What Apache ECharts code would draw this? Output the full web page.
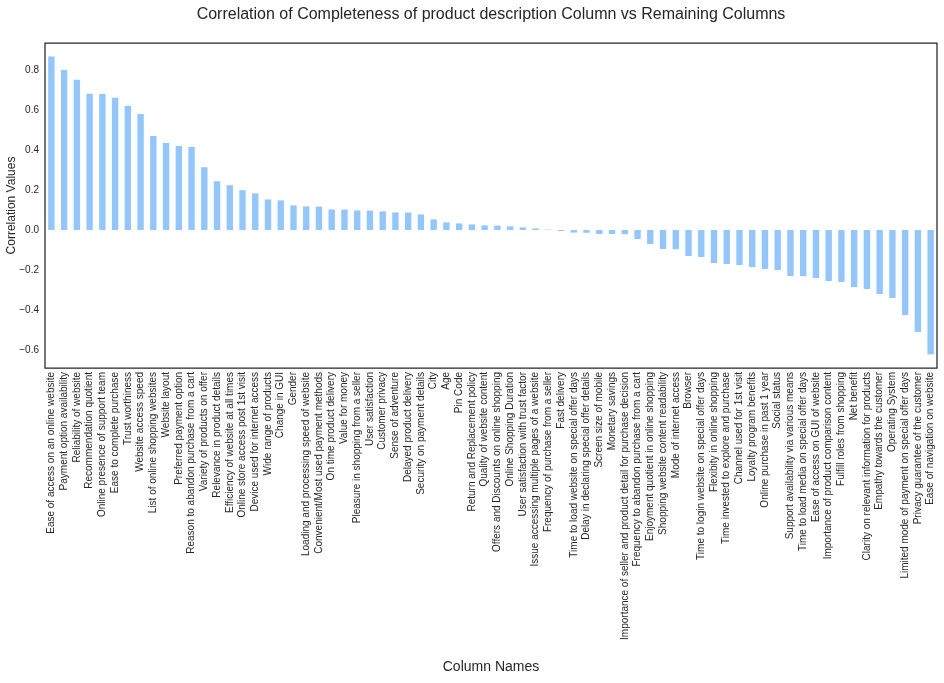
<!DOCTYPE html>
<html lang="en">
<head>
    <meta charset="UTF-8">
    <title>Correlation of Completeness of product description</title>
    <script src="https://cdn.jsdelivr.net/npm/echarts@6/dist/echarts.min.js"></script>
</head>
<body style="margin: 0; background-color: white;">
<div id="chart" style="width: 944px; height: 683px;"></div>

<script>
    // column names, sorted by correlation
    const columnNames = [
        'Ease of access on an online website', 'Payment option availability', 'Reliability of website',
        'Recommendation quotient', 'Online presence of support team', 'Ease to complete purchase',
        'Trust worthiness', 'Website access speed', 'List of online shopping websites', 'Website layout',
        'Preferred payment option', 'Reason to abandon purchase from a cart', 'Variety of products on offer',
        'Relevance in product details', 'Efficiency of website at all times', 'Online store access post 1st visit',
        'Device used for internet access', 'Wide range of products', 'Change in GUI', 'Gender',
        'Loading and processing speed of website', 'Convenient/Most used payment methods',
        'On time product delivery', 'Value for money', 'Pleasure in shopping from a seller',
        'User satisfaction', 'Customer privacy', 'Sense of adventure', 'Delayed product delivery',
        'Security on payment details', 'City', 'Age', 'Pin Code', 'Return and Replacement policy',
        'Quality of website content', 'Offers and Discounts on online shopping', 'Online Shopping Duration',
        'User satisfaction with trust factor', 'Issue accessing multiple pages of a website',
        'Frequency of purchase from a seller', 'Fast delivery', 'Time to load website on special offer days',
        'Delay in declaring special offer details', 'Screen size of mobile', 'Monetary savings',
        'Importance of seller and product detail for purchase decision',
        'Frequency to abandon purchase from a cart', 'Enjoyment quotient in online shopping',
        'Shopping website content readability', 'Mode of internet access', 'Browser',
        'Time to login website on special offer days', 'Flexibity in online shopping',
        'Time invested to explore and purchase', 'Channel used for 1st visit', 'Loyalty program benefits',
        'Online purchase in past 1 year', 'Social status', 'Support availability via various means',
        'Time to load media on special offer days', 'Ease of access on GUI of website',
        'Importance of product comparison content', 'Fulfill roles from shopping', 'Net benefit',
        'Clarity on relevant information for products', 'Empathy towards the customer', 'Operating System',
        'Limited mode of payment on special offer days', 'Privacy guarantee of the customer',
        'Ease of navigation on website'
    ];

    // correlation values
    const correlationValues = [
        0.867, 0.800, 0.751, 0.681, 0.680, 0.661, 0.621, 0.580, 0.470, 0.435,
        0.420, 0.415, 0.314, 0.244, 0.224, 0.199, 0.183, 0.153, 0.148, 0.123,
        0.118, 0.117, 0.103, 0.102, 0.098, 0.097, 0.093, 0.088, 0.087, 0.078,
        0.053, 0.038, 0.033, 0.028, 0.023, 0.022, 0.018, 0.013, 0.008, 0.002,
        -0.005, -0.013, -0.014, -0.020, -0.020, -0.021, -0.045, -0.070, -0.095, -0.096,
        -0.130, -0.135, -0.165, -0.170, -0.175, -0.185, -0.195, -0.200, -0.230, -0.231,
        -0.240, -0.255, -0.260, -0.285, -0.295, -0.320, -0.340, -0.425, -0.510, -0.622
    ];

    const FONT = '"Liberation Sans", Arial, sans-serif';
    const TEXT_COLOR = '#262626';

    const myChart = echarts.init(document.getElementById('chart'));

    const option = {
        animation: false,
        title: {
            text: 'Correlation of Completeness of product description Column vs Remaining Columns',
            left: 491,
            top: 7,
            padding: 0,
            textAlign: 'center',
            textStyle: { fontFamily: FONT, fontSize: 16, fontWeight: 'normal', color: TEXT_COLOR }
        },
        grid: {
            left: 45,
            right: 7,
            top: 43,
            bottom: 315,
            containLabel: false,
            outerBoundsMode: 'none',
            show: true,
            borderColor: '#262626',
            borderWidth: 1.25,
            backgroundColor: 'transparent'
        },
        xAxis: {
            type: 'category',
            data: columnNames,
            name: 'Column Names',
            nameLocation: 'middle',
            nameGap: 292,
            nameTextStyle: { fontFamily: FONT, fontSize: 14, color: TEXT_COLOR },
            axisLine: { show: false },
            axisTick: { show: false },
            axisLabel: {
                interval: 0,
                rotate: 90,
                margin: 4,
                fontFamily: FONT,
                fontSize: 10,
                color: TEXT_COLOR
            }
        },
        yAxis: {
            type: 'value',
            min: -0.69,
            max: 0.935,
            splitNumber: 8,
            name: 'Correlation Values',
            nameLocation: 'middle',
            nameGap: 27,
            nameMoveOverlap: false,
            nameTextStyle: { fontFamily: FONT, fontSize: 12, color: TEXT_COLOR },
            axisLine: { show: false },
            axisTick: { show: false },
            splitLine: { show: false },
            axisLabel: {
                margin: 6,
                showMinLabel: false,
                showMaxLabel: false,
                fontFamily: FONT,
                fontSize: 10,
                color: TEXT_COLOR,
                formatter: function (v) {
                    if (Math.abs(v * 5 - Math.round(v * 5)) > 1e-6) return '';
                    return v.toFixed(1).replace('-', '\u2212');
                }
            }
        },
        series: [
            {
                type: 'bar',
                data: correlationValues,
                barWidth: '50%',
                itemStyle: { color: '#92C6FF' }
            }
        ]
    };

    myChart.setOption(option);
</script>
</body>
</html>
